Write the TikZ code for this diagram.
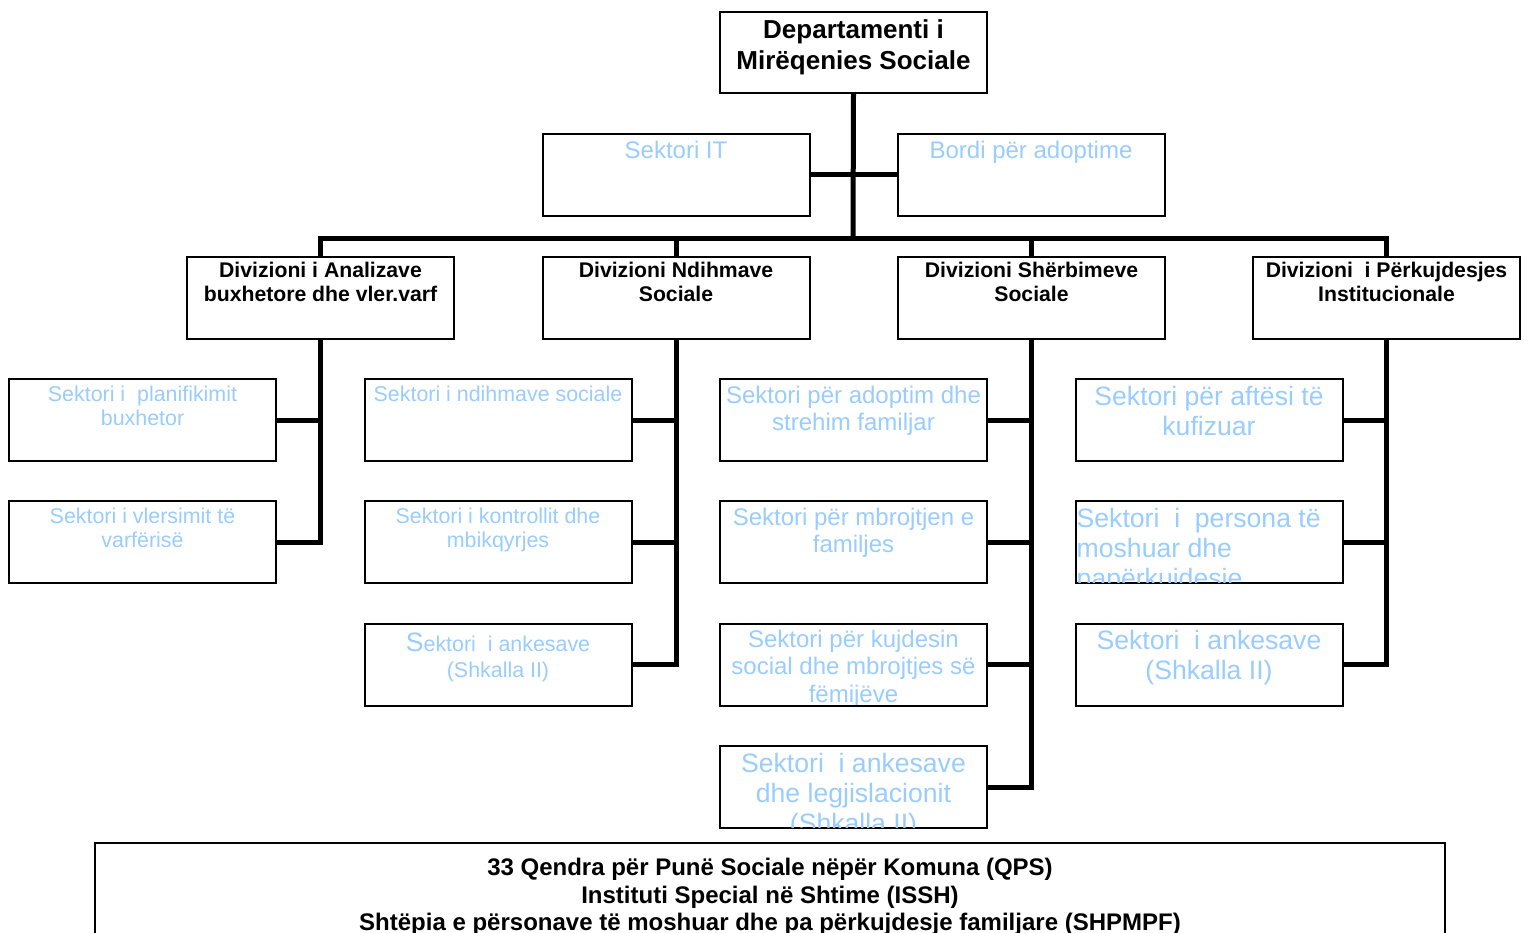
\documentclass[tikz,border=0pt]{standalone}
\usepackage{fontspec}
\setmainfont{Liberation Sans}
\definecolor{skyblue}{HTML}{99CCFF}
\newcommand\fs[2]{\fontsize{#1}{#2}\selectfont}
% text clipped to the inside of a box: box, text name, drop from top, options, text
\newcommand\boxtext[5]{%
  \begin{scope}
    \clip ([shift={(1,-1)}]#1.south west) rectangle ([shift={(-1,1)}]#1.north east);
    \node[#4] (#2) at ([yshift=-#3pt]#1.north) {#5};
  \end{scope}}
\begin{document}
\begin{tikzpicture}[x=1pt,y=-1pt,
  box/.style={draw, line width=2pt, minimum width=267pt, minimum height=82pt,
    inner sep=0pt, outer sep=0pt, fill=white},
  wire/.style={line width=5pt},
  stext/.style={anchor=north, inner sep=0pt, align=center, text=skyblue},
  htext/.style={anchor=north, inner sep=0pt, align=center, font=\bfseries}]
\useasboundingbox (0,0) rectangle (1528,932);
\clip (0,0) rectangle (1528,932);

% connectors
\coordinate (bus) at (853,238);

% head of the department and its two staff units
\node[box, minimum height=81pt] (dept) at (853.5,52.5) {};
\node[box] (it) at (676,174.5) {};
\node[box] (bordi) at (1031,174.5) {};

% divisions
\node[box] (d1) at (320.5,297.5) {};
\node[box] (d2) at (676,297.5) {};
\node[box] (d3) at (1031.5,297.5) {};
\node[box] (d4) at (1386.5,297.5) {};

% sectors
\node[box] (s11) at (142.5,420) {};
\node[box] (s12) at (142.5,542) {};
\node[box] (s21) at (498,420) {};
\node[box] (s22) at (498,542) {};
\node[box] (s23) at (498,664.5) {};
\node[box] (s31) at (853.5,420) {};
\node[box] (s32) at (853.5,542) {};
\node[box] (s33) at (853.5,664.5) {};
\node[box] (s34) at (853.5,787) {};
\node[box] (s41) at (1209,420) {};
\node[box] (s42) at (1209,542) {};
\node[box] (s43) at (1209,664.5) {};

% institutions
\node[box, minimum width=1350pt, minimum height=117pt] (inst) at (770,901.5) {};

% lines of the chart
\draw[wire] (dept.south) -- (bus);
\draw[wire] (it.east) -- (bordi.west);
\draw[wire] (d1.north) -- (d1.north |- bus) -- (d4.north |- bus) -- (d4.north);
\draw[wire] (d2.north) -- (d2.north |- bus);
\draw[wire] (d3.north) -- (d3.north |- bus);

\draw[wire] (d1.south) -- (d1.south |- s12.east) -- (s12.east);
\draw[wire] (s11.east) -- (s11.east -| d1.south);

\draw[wire] (d2.south) -- (d2.south |- s23.east) -- (s23.east);
\draw[wire] (s21.east) -- (s21.east -| d2.south);
\draw[wire] (s22.east) -- (s22.east -| d2.south);

\draw[wire] (d3.south) -- (d3.south |- s34.east) -- (s34.east);
\draw[wire] (s31.east) -- (s31.east -| d3.south);
\draw[wire] (s32.east) -- (s32.east -| d3.south);
\draw[wire] (s33.east) -- (s33.east -| d3.south);

\draw[wire] (d4.south) -- (d4.south |- s43.east) -- (s43.east);
\draw[wire] (s41.east) -- (s41.east -| d4.south);
\draw[wire] (s42.east) -- (s42.east -| d4.south);

% texts
\boxtext{dept}{deptT}{7.5}{htext, font=\bfseries\fs{26}{30.5}}{Departamenti i\\Mirëqenies Sociale}
\boxtext{it}{itT}{7}{stext, font=\fs{24}{27}}{Sektori IT}
\boxtext{bordi}{bordiT}{7}{stext, font=\fs{24}{27}}{Bordi për adoptime}

\boxtext{d1}{d1T}{5.3}{htext, font=\bfseries\fs{21.2}{24.5}}{Divizioni i Analizave\\buxhetore dhe vler.varf}
\boxtext{d2}{d2T}{5.3}{htext, font=\bfseries\fs{21.2}{24.5}}{Divizioni Ndihmave\\Sociale}
\boxtext{d3}{d3T}{5.3}{htext, font=\bfseries\fs{21.2}{24.5}}{Divizioni Shërbimeve\\Sociale}
\boxtext{d4}{d4T}{5.3}{htext, font=\bfseries\fs{21.2}{24.5}}{Divizioni\ \ i Përkujdesjes\\Institucionale}

\boxtext{s11}{s11T}{6.4}{stext, font=\fs{21.4}{24}}{Sektori i\ \ planifikimit\\buxhetor}
\boxtext{s12}{s12T}{6.4}{stext, font=\fs{21.4}{24}}{Sektori i vlersimit të\\varfërisë}

\boxtext{s21}{s21T}{6.4}{stext, font=\fs{21.4}{24}}{Sektori i ndihmave sociale}
\boxtext{s22}{s22T}{6.4}{stext, font=\fs{21.4}{24}}{Sektori i kontrollit dhe\\mbikqyrjes}
\boxtext{s23}{s23T}{9.5}{stext, font=\fs{21.4}{26}}{{\fs{26.6}{26}S}ektori\ \ i ankesave\\(Shkalla II)}

\boxtext{s31}{s31T}{7}{stext, font=\fs{24}{27}}{Sektori për adoptim dhe\\strehim familjar}
\boxtext{s32}{s32T}{7}{stext, font=\fs{24}{27}}{Sektori për mbrojtjen e\\familjes}
\boxtext{s33}{s33T}{6}{stext, font=\fs{24}{27.5}}{Sektori për kujdesin\\social dhe mbrojtjes së\\fëmijëve}
\boxtext{s34}{s34T}{7}{stext, font=\fs{26.6}{30}}{Sektori\ \ i ankesave\\dhe legjislacionit\\(Shkalla II)}

\boxtext{s41}{s41T}{7}{stext, font=\fs{26.6}{30}}{Sektori për aftësi të\\kufizuar}
\begin{scope}
  \clip ([shift={(1,-1)}]s42.south west) rectangle ([shift={(-1,1)}]s42.north east);
  \node[stext, anchor=north west, align=left, font=\fs{26.6}{30}] (s42T)
    at ([shift={(1,7)}]s42.north west) {Sektori\ \ i\ \ persona të\\moshuar dhe\\papërkujdesje};
\end{scope}
\boxtext{s43}{s43T}{7}{stext, font=\fs{26.6}{30}}{Sektori\ \ i ankesave\\(Shkalla II)}

\boxtext{inst}{instT}{15}{htext, font=\bfseries\fs{24}{27.5}}{33 Qendra për Punë Sociale nëpër Komuna (QPS)\\Instituti Special në Shtime (ISSH)\\Shtëpia e përsonave të moshuar dhe pa përkujdesje familjare (SHPMPF)}
\end{tikzpicture}
\end{document}
